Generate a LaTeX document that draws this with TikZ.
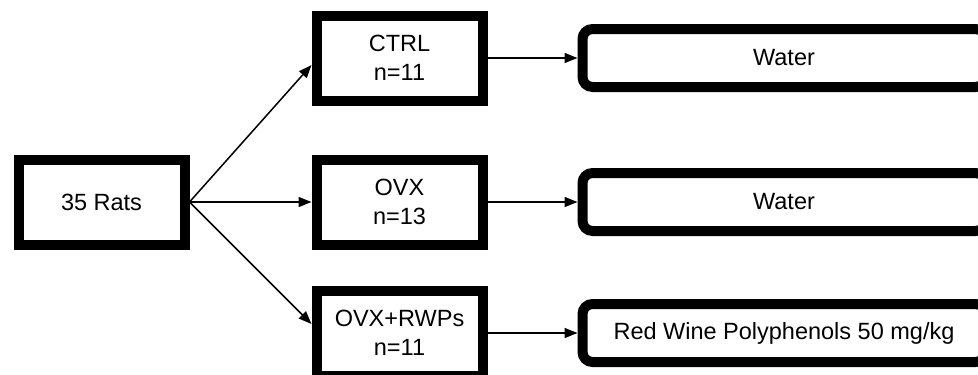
\documentclass[tikz,border=0pt]{standalone}
\usepackage{fontspec}
\setmainfont{Liberation Sans}
\usetikzlibrary{positioning,arrows.meta}

\begin{document}
\begin{tikzpicture}[x=1pt, y=-1pt,
    every node/.style={rectangle, draw, line width=10pt, inner sep=0pt, align=center, font=\fontsize{23.5}{29}\selectfont},
    group/.style={minimum width=166pt, minimum height=85pt},
    diet/.style={minimum width=403pt, minimum height=58pt, rounded corners=10pt},
    arr/.style={line width=1.5pt, -{Triangle[length=13pt,width=10pt]}}]
    \useasboundingbox (0,0) rectangle (978,375);
    \clip (0,0) rectangle (978,375);

    \node[group] (rats) at (101.5,202) {35 Rats};
    \node[group, right=122pt of rats] (ovx) {OVX\\n=13};
    \node[group, above=49pt of ovx] (ctrl) {CTRL\\n=11};
    \node[group, below=36pt of ovx] (rwps) {OVX+RWPs\\n=11};

    \node[diet, right=90pt of ctrl] (water1) {Water};
    \node[diet, right=90pt of ovx] (water2) {Water};
    \node[diet, right=90pt of rwps] (wine) {Red Wine Polyphenols 50 mg/kg};

    \draw[arr] (rats.east) -- ([yshift=-7pt]ctrl.west);
    \draw[arr] (rats.east) -- (ovx.west);
    \draw[arr] (rats.east) -- ([yshift=9pt]rwps.west);

    \draw[arr] (ctrl.east) -- (water1.west);
    \draw[arr] (ovx.east) -- (water2.west);
    \draw[arr] (rwps.east) -- (wine.west);
\end{tikzpicture}
\end{document}
